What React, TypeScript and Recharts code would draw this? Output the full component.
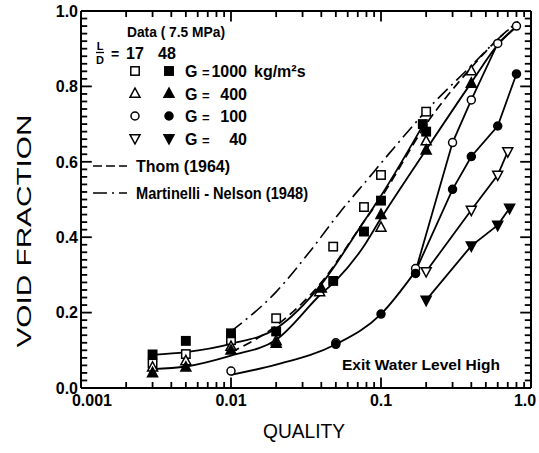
import React from 'react';
import { ComposedChart, Line, Scatter, XAxis, YAxis, ReferenceLine } from 'recharts';

const FONT = "'Liberation Sans', Arial, sans-serif";

// measured points, 7.5 MPa. open = L/D 17, filled = L/D 48
const sqOpen = [
  { x: 0.003, y: 0.065 }, { x: 0.005, y: 0.09 }, { x: 0.01, y: 0.127 }, { x: 0.02, y: 0.185 },
  { x: 0.048, y: 0.375 }, { x: 0.077, y: 0.48 }, { x: 0.1, y: 0.565 }, { x: 0.2, y: 0.733 },
];
const sqFilled = [
  { x: 0.003, y: 0.089 }, { x: 0.005, y: 0.125 }, { x: 0.01, y: 0.145 }, { x: 0.02, y: 0.15 },
  { x: 0.048, y: 0.284 }, { x: 0.077, y: 0.415 }, { x: 0.1, y: 0.497 }, { x: 0.19, y: 0.7 }, { x: 0.2, y: 0.68 },
];
const triOpen = [
  { x: 0.003, y: 0.055 }, { x: 0.005, y: 0.072 }, { x: 0.01, y: 0.11 }, { x: 0.02, y: 0.125 },
  { x: 0.039, y: 0.255 }, { x: 0.1, y: 0.426 }, { x: 0.2, y: 0.655 }, { x: 0.4, y: 0.841 },
];
const triFilled = [
  { x: 0.003, y: 0.04 }, { x: 0.005, y: 0.055 }, { x: 0.01, y: 0.1 }, { x: 0.02, y: 0.118 },
  { x: 0.04, y: 0.265 }, { x: 0.1, y: 0.46 }, { x: 0.2, y: 0.631 }, { x: 0.4, y: 0.808 },
];
const cirOpen = [
  { x: 0.01, y: 0.045 }, { x: 0.05, y: 0.12 }, { x: 0.17, y: 0.317 }, { x: 0.3, y: 0.651 },
  { x: 0.4, y: 0.764 }, { x: 0.6, y: 0.914 }, { x: 0.8, y: 0.96 },
];
const cirFilled = [
  { x: 0.05, y: 0.116 }, { x: 0.1, y: 0.196 }, { x: 0.17, y: 0.304 }, { x: 0.3, y: 0.527 },
  { x: 0.4, y: 0.614 }, { x: 0.6, y: 0.695 }, { x: 0.8, y: 0.833 },
];
const invOpen = [{ x: 0.2, y: 0.309 }, { x: 0.4, y: 0.472 }, { x: 0.6, y: 0.565 }, { x: 0.7, y: 0.627 }];
const invFilled = [{ x: 0.2, y: 0.233 }, { x: 0.4, y: 0.377 }, { x: 0.6, y: 0.432 }, { x: 0.72, y: 0.477 }];

// hand-drawn fit curves
const fitG1000 = [
  { x: 0.003, y: 0.088 }, { x: 0.005, y: 0.095 }, { x: 0.01, y: 0.117 }, { x: 0.02, y: 0.158 },
  { x: 0.04, y: 0.275 }, { x: 0.075, y: 0.435 }, { x: 0.1, y: 0.51 }, { x: 0.2, y: 0.712 },
];
const fitG400 = [
  { x: 0.003, y: 0.05 }, { x: 0.005, y: 0.057 }, { x: 0.01, y: 0.086 }, { x: 0.02, y: 0.128 },
  { x: 0.04, y: 0.25 }, { x: 0.05, y: 0.285 }, { x: 0.075, y: 0.37 }, { x: 0.1, y: 0.45 },
  { x: 0.2, y: 0.632 }, { x: 0.4, y: 0.81 }, { x: 0.6, y: 0.91 }, { x: 0.8, y: 0.958 },
];
const fitG100 = [
  { x: 0.01, y: 0.035 }, { x: 0.02, y: 0.062 }, { x: 0.05, y: 0.116 }, { x: 0.1, y: 0.196 }, { x: 0.17, y: 0.31 },
];
const branchOpen100 = [
  { x: 0.17, y: 0.31 }, { x: 0.3, y: 0.651 }, { x: 0.4, y: 0.764 }, { x: 0.6, y: 0.914 }, { x: 0.8, y: 0.96 },
];
const branchFilled100 = [
  { x: 0.17, y: 0.31 }, { x: 0.3, y: 0.527 }, { x: 0.4, y: 0.614 }, { x: 0.6, y: 0.695 }, { x: 0.8, y: 0.833 },
];
const thom = [
  { x: 0.01, y: 0.095 }, { x: 0.02, y: 0.165 }, { x: 0.04, y: 0.28 }, { x: 0.075, y: 0.435 },
  { x: 0.1, y: 0.505 }, { x: 0.2, y: 0.7 }, { x: 0.4, y: 0.85 }, { x: 0.6, y: 0.925 }, { x: 0.82, y: 0.972 },
];
const martinelli = [
  { x: 0.01, y: 0.15 }, { x: 0.02, y: 0.255 }, { x: 0.034, y: 0.365 }, { x: 0.053, y: 0.465 },
  { x: 0.08, y: 0.55 }, { x: 0.115, y: 0.625 }, { x: 0.2, y: 0.735 }, { x: 0.4, y: 0.855 },
  { x: 0.6, y: 0.925 }, { x: 0.82, y: 0.972 },
];

const X_TICKS = [
  0.001, 0.002, 0.003, 0.004, 0.005, 0.006, 0.007, 0.008, 0.009,
  0.01, 0.02, 0.03, 0.04, 0.05, 0.06, 0.07, 0.08, 0.09,
  0.1, 0.2, 0.3, 0.4, 0.5, 0.6, 0.7, 0.8, 0.9, 1,
];
const X_MAJOR = [0.001, 0.01, 0.1, 1];
const X_LABELS = ['0.001', '0.01', '0.1', '1.0'];
const Y_TICKS = [
  0, 0.02, 0.04, 0.06, 0.08, 0.1, 0.12, 0.14, 0.16, 0.18, 0.2, 0.22, 0.24, 0.26, 0.28, 0.3,
  0.32, 0.34, 0.36, 0.38, 0.4, 0.42, 0.44, 0.46, 0.48, 0.5, 0.52, 0.54, 0.56, 0.58, 0.6,
  0.62, 0.64, 0.66, 0.68, 0.7, 0.72, 0.74, 0.76, 0.78, 0.8, 0.82, 0.84, 0.86, 0.88, 0.9,
  0.92, 0.94, 0.96, 0.98, 1,
];
const Y_MAJOR = [0, 0.2, 0.4, 0.6, 0.8, 1];
const Y_LABELS = ['0.0', '0.2', '0.4', '0.6', '0.8', '1.0'];

const LEGEND_ROWS = [
  { kind: 'square', g: '1000', unit: 'kg/m²s' },
  { kind: 'triangle', g: '400', unit: '' },
  { kind: 'circle', g: '100', unit: '' },
  { kind: 'inv', g: '40', unit: '' },
];

// inward tick lengths, in data units (y is linear, x is log so a ratio)
const X_TICK_LEN = { minor: 0.016, major: 0.028 };
const Y_TICK_RATIO = { minor: 1.1, major: 1.18 };

function Marker({ cx, cy, kind, filled }: { cx: number; cy: number; kind: string; filled: boolean }) {
  const fill = filled ? '#000' : '#fff';
  const common = { fill, stroke: '#000', strokeWidth: 1.5 };
  if (kind === 'square') return <rect x={cx - 4.2} y={cy - 4.2} width={8.4} height={8.4} {...common} />;
  if (kind === 'circle') return <circle cx={cx} cy={cy} r={4} {...common} />;
  if (kind === 'triangle')
    return <polygon points={`${cx},${cy - 5.5} ${cx + 5},${cy + 3.8} ${cx - 5},${cy + 3.8}`} {...common} />;
  return <polygon points={`${cx},${cy + 5.5} ${cx + 5},${cy - 3.8} ${cx - 5},${cy - 3.8}`} {...common} />;
}

const shape = (kind: string, filled: boolean) => (p: any) => <Marker cx={p.cx} cy={p.cy} kind={kind} filled={filled} />;

const BottomLabel = (p: any) => {
  const i = X_MAJOR.indexOf(p.payload.value);
  if (i < 0) return <g />;
  const dx = i === 0 ? 11 : i === 3 ? -6 : 0;
  return (
    <text x={p.x + dx} y={p.y + 18} textAnchor="middle" fontSize={16} fontWeight="bold" fontFamily={FONT} fill="#000">
      {X_LABELS[i]}
    </text>
  );
};
const LeftLabel = (p: any) => {
  const i = Y_MAJOR.indexOf(p.payload.value);
  if (i < 0) return <g />;
  return (
    <text x={p.x - 3} y={p.y} dy="0.36em" textAnchor="end" fontSize={16} fontWeight="bold" fontFamily={FONT} fill="#000">
      {Y_LABELS[i]}
    </text>
  );
};

const axisLine = { stroke: '#000', strokeWidth: 2 };
const tickStyle = { stroke: '#000', strokeWidth: 1.8, ifOverflow: 'visible' as const };

export default function App() {
  const curve = { dot: false, activeDot: false, isAnimationActive: false, stroke: '#000', strokeWidth: 1.8, dataKey: 'y' } as const;

  const tickMarks: React.ReactNode[] = [];
  X_TICKS.forEach((v) => {
    const len = X_MAJOR.includes(v) ? X_TICK_LEN.major : X_TICK_LEN.minor;
    tickMarks.push(<ReferenceLine key={`xb${v}`} segment={[{ x: v, y: 0 }, { x: v, y: len }]} {...tickStyle} />);
    tickMarks.push(<ReferenceLine key={`xt${v}`} segment={[{ x: v, y: 1 }, { x: v, y: 1 - len }]} {...tickStyle} />);
  });
  Y_TICKS.forEach((v) => {
    const r = Y_MAJOR.includes(v) ? Y_TICK_RATIO.major : Y_TICK_RATIO.minor;
    tickMarks.push(<ReferenceLine key={`yl${v}`} segment={[{ x: 0.001, y: v }, { x: 0.001 * r, y: v }]} {...tickStyle} />);
    tickMarks.push(<ReferenceLine key={`yr${v}`} segment={[{ x: 1, y: v }, { x: 1 / r, y: v }]} {...tickStyle} />);
  });

  return (
    <div style={{ position: 'absolute', left: 0, top: 0, width: 539, height: 453, background: '#fff' }}>
      <svg width={539} height={453} style={{ position: 'absolute', left: 0, top: 0 }} fontFamily={FONT}>
        <g fill="#000">
          <text x={23} y={231} transform="rotate(-90 23 231)" textAnchor="middle" dy="0.36em" fontSize={21}
            textLength={233} lengthAdjust="spacingAndGlyphs">VOID  FRACTION</text>
          <text x={304} y={438} textAnchor="middle" fontSize={21} textLength={82} lengthAdjust="spacingAndGlyphs">QUALITY</text>
        </g>
        <g fill="#000" fontWeight="bold">
          <text x={127} y={37} fontSize={14} textLength={98} lengthAdjust="spacingAndGlyphs">Data ( 7.5 MPa)</text>
          <text x={100} y={50} fontSize={11} textAnchor="middle">L</text>
          <line x1={96} x2={104} y1={52.5} y2={52.5} stroke="#000" strokeWidth={1.3} />
          <text x={100} y={64} fontSize={11} textAnchor="middle">D</text>
          <text x={111} y={59} fontSize={14}>=</text>
          <text x={135} y={59} fontSize={16} textAnchor="middle">17</text>
          <text x={167} y={59} fontSize={16} textAnchor="middle">48</text>
          {LEGEND_ROWS.map((r, i) => {
            const cy = 71 + i * 22.5;
            return (
              <g key={r.g}>
                <Marker cx={135} cy={cy} kind={r.kind} filled={false} />
                <Marker cx={169} cy={cy} kind={r.kind} filled />
                <text x={185} y={cy + 6} fontSize={16}>G</text>
                <text x={202} y={cy + 6} fontSize={13}>=</text>
                <text x={247} y={cy + 6} fontSize={16} textAnchor="end">{r.g}</text>
                {r.unit && <text x={254} y={cy + 6} fontSize={16}>{r.unit}</text>}
              </g>
            );
          })}
          <line x1={93} x2={127} y1={166} y2={166} stroke="#000" strokeWidth={1.6} strokeDasharray="9 4" />
          <text x={136} y={172} fontSize={16} textLength={94} lengthAdjust="spacingAndGlyphs">Thom  (1964)</text>
          <line x1={93} x2={127} y1={193} y2={193} stroke="#000" strokeWidth={1.5} strokeDasharray="14 5 2 5" />
          <text x={136} y={199} fontSize={16} textLength={172} lengthAdjust="spacingAndGlyphs">Martinelli - Nelson (1948)</text>
          <text x={342} y={370} fontSize={15} textLength={158} lengthAdjust="spacingAndGlyphs">Exit Water Level  High</text>
        </g>
      </svg>

      <ComposedChart width={539} height={453} margin={{ top: 11, right: 8, bottom: 35, left: 21 }}>
        <XAxis dataKey="x" type="number" scale="log" domain={[0.001, 1]} allowDataOverflow ticks={X_TICKS}
          interval={0} tickSize={0} tickMargin={0} tickLine={false} axisLine={axisLine} height={30}
          tick={(p: any) => <BottomLabel {...p} />} />
        <YAxis type="number" domain={[0, 1]} ticks={Y_TICKS} interval={0} tickSize={0} tickMargin={0}
          tickLine={false} axisLine={axisLine} width={60} tick={(p: any) => <LeftLabel {...p} />} />

        {/* top and right frame */}
        <ReferenceLine segment={[{ x: 0.001, y: 1 }, { x: 1, y: 1 }]} stroke="#000" strokeWidth={2} ifOverflow="visible" />
        <ReferenceLine segment={[{ x: 1, y: 0 }, { x: 1, y: 1 }]} stroke="#000" strokeWidth={2} ifOverflow="visible" />
        {tickMarks}

        <Line {...curve} data={martinelli} type="monotone" strokeDasharray="14 5 2 5" strokeWidth={1.6} />
        <Line {...curve} data={thom} type="monotone" strokeDasharray="9 5" strokeWidth={1.7} />
        <Line {...curve} data={fitG1000} type="monotone" />
        <Line {...curve} data={fitG400} type="monotone" />
        <Line {...curve} data={fitG100} type="monotone" />
        <Line {...curve} data={branchOpen100} type="linear" />
        <Line {...curve} data={branchFilled100} type="linear" />
        <Line {...curve} data={invOpen} type="linear" />
        <Line {...curve} data={invFilled} type="linear" />

        <Scatter data={sqOpen} dataKey="y" isAnimationActive={false} shape={shape('square', false)} />
        <Scatter data={sqFilled} dataKey="y" isAnimationActive={false} shape={shape('square', true)} />
        <Scatter data={triOpen} dataKey="y" isAnimationActive={false} shape={shape('triangle', false)} />
        <Scatter data={triFilled} dataKey="y" isAnimationActive={false} shape={shape('triangle', true)} />
        <Scatter data={cirOpen} dataKey="y" isAnimationActive={false} shape={shape('circle', false)} />
        <Scatter data={cirFilled} dataKey="y" isAnimationActive={false} shape={shape('circle', true)} />
        <Scatter data={invOpen} dataKey="y" isAnimationActive={false} shape={shape('inv', false)} />
        <Scatter data={invFilled} dataKey="y" isAnimationActive={false} shape={shape('inv', true)} />
      </ComposedChart>
    </div>
  );
}
